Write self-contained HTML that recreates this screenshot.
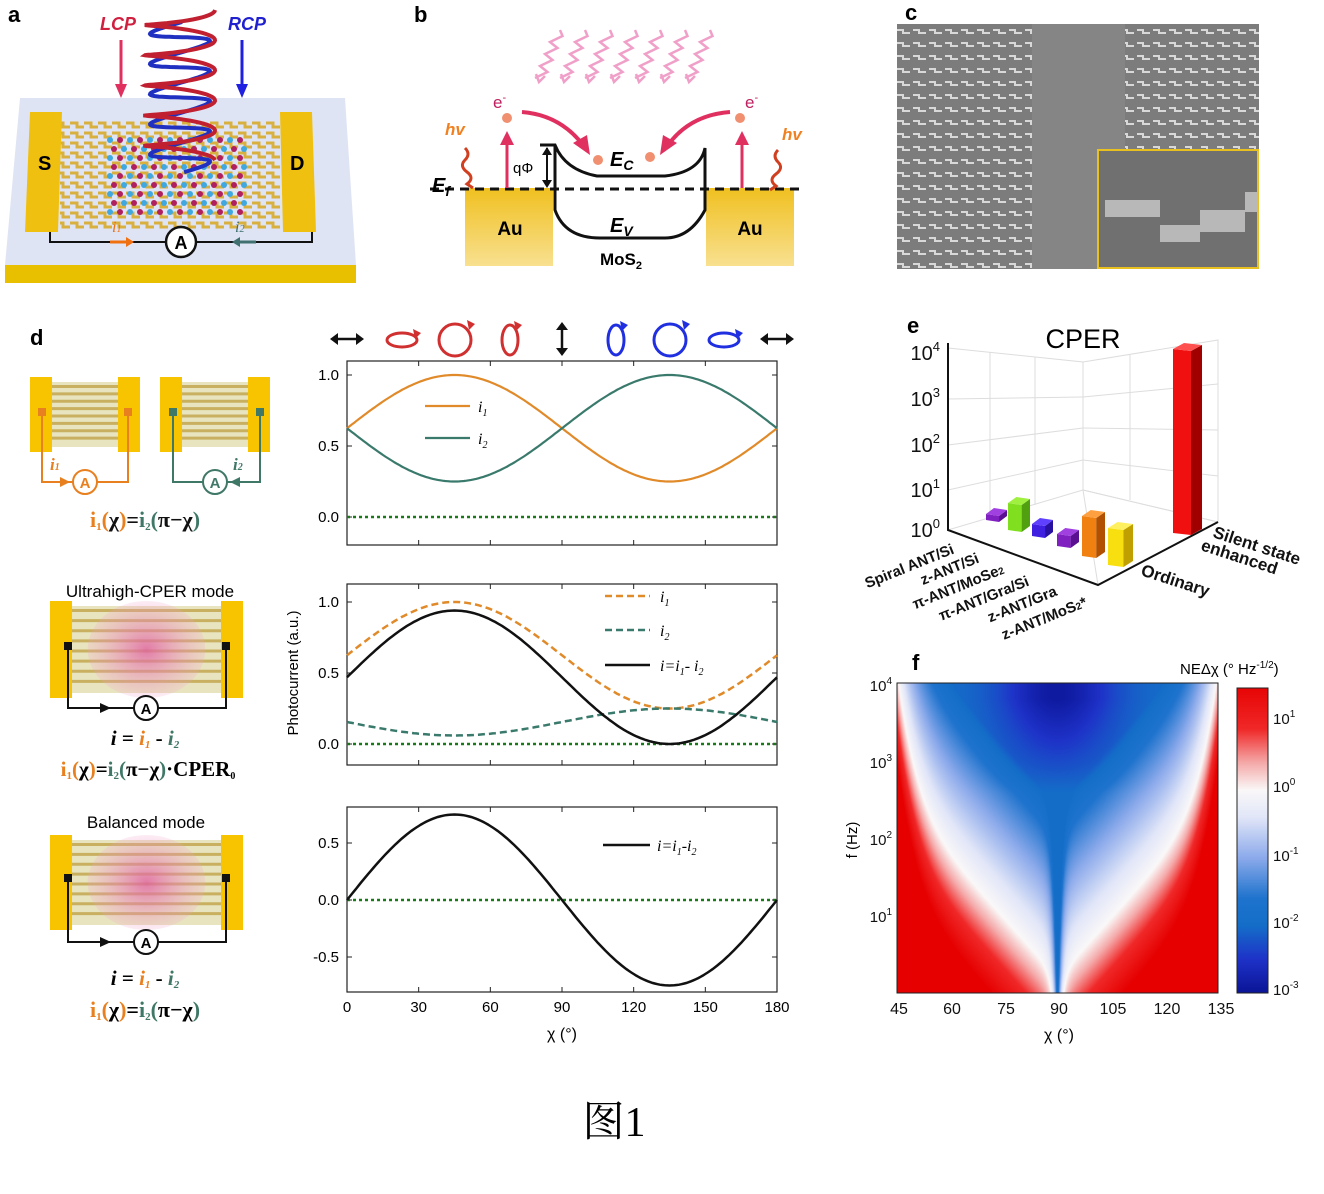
<!DOCTYPE html>
<html><head><meta charset="utf-8">
<style>
html,body{margin:0;padding:0;background:#fff;}
#wrap{position:relative;width:1324px;height:1194px;overflow:hidden;font-family:"Liberation Sans",sans-serif;}
svg{position:absolute;left:0;top:0;}
canvas{position:absolute;}
</style></head><body>
<div id="wrap">
<canvas id="hm" width="321" height="310" style="left:897px;top:683px;"></canvas>
<canvas id="cb" width="31" height="305" style="left:1237px;top:688px;"></canvas>
<svg id="s" width="1324" height="1194" viewBox="0 0 1324 1194" font-family="Liberation Sans, sans-serif">
<defs>
<radialGradient id="pink" cx="0.5" cy="0.5" r="0.5"><stop offset="0" stop-color="#e060a0" stop-opacity="0.8"/><stop offset="1" stop-color="#f0a0c8" stop-opacity="0.2"/></radialGradient>
<linearGradient id="au" x1="0" y1="0" x2="0" y2="1"><stop offset="0" stop-color="#f0c020"/><stop offset="1" stop-color="#f8e090"/></linearGradient>
<pattern id="fing" width="14" height="10" patternUnits="userSpaceOnUse"><path d="M0 3h7v4h7" stroke="#d8b040" stroke-width="3" fill="none"/></pattern>
<pattern id="sem" width="16" height="13" patternUnits="userSpaceOnUse"><rect width="16" height="13" fill="#7c7c7c"/><path d="M1 4h6v3h7" stroke="#d8d8d8" stroke-width="2" fill="none"/></pattern>
</defs>

<text x="8" y="22" font-size="22" font-weight="bold">a</text>
<polygon points="20,98 345,98 356,265 5,265" fill="#dfe4f4"/>
<polygon points="5,265 356,265 356,283 5,283" fill="#e8c000"/>
<rect x="60" y="120" width="220" height="110" fill="url(#fing)"/>
<polygon points="30,112 62,112 58,232 25,232" fill="#f0c010"/>
<polygon points="280,112 312,112 316,232 283,232" fill="#f0c010"/>
<text x="38" y="170" font-size="20" font-weight="bold">S</text>
<text x="290" y="170" font-size="20" font-weight="bold">D</text>
<g id="dots"></g>
<polyline points="50,232 50,242 312,242 312,232" fill="none" stroke="#111" stroke-width="2"/>
<circle cx="181" cy="242" r="15" fill="#fff" stroke="#111" stroke-width="2.5"/>
<text x="181" y="249" font-size="18" font-weight="bold" text-anchor="middle">A</text>
<path d="M110 242h16" stroke="#f07010" stroke-width="3"/><path d="M126 237l8 5-8 5z" fill="#f07010"/>
<path d="M240 242h16" stroke="#407070" stroke-width="3"/><path d="M240 237l-8 5 8 5z" fill="#407070"/>
<text x="112" y="232" font-size="16" fill="#f07010" font-style="italic" font-family="Liberation Serif">i<tspan font-size="10">1</tspan></text>
<text x="235" y="232" font-size="16" fill="#407070" font-style="italic" font-family="Liberation Serif">i<tspan font-size="10">2</tspan></text>
<g id="coil" fill="none" stroke-width="4"></g>
<text x="100" y="30" font-size="18" fill="#d02040" font-weight="bold" font-style="italic">LCP</text>
<text x="228" y="30" font-size="18" fill="#2020d0" font-weight="bold" font-style="italic">RCP</text>
<path d="M121 40v45" stroke="#e03060" stroke-width="3"/><path d="M115 84l6 14 6-14z" fill="#e03060"/>
<path d="M242 40v45" stroke="#2020e0" stroke-width="3"/><path d="M236 84l6 14 6-14z" fill="#2020e0"/>

<text x="414" y="22" font-size="22" font-weight="bold">b</text>
<g id="wig" stroke="#f0a0c8" stroke-width="2.5" fill="none"></g>
<rect x="465" y="188" width="88" height="78" fill="url(#au)"/>
<rect x="706" y="188" width="88" height="78" fill="url(#au)"/>
<text x="510" y="235" font-size="19" font-weight="bold" text-anchor="middle">Au</text>
<text x="750" y="235" font-size="19" font-weight="bold" text-anchor="middle">Au</text>
<line x1="430" y1="189" x2="800" y2="189" stroke="#111" stroke-width="3" stroke-dasharray="9,6"/>
<path d="M540 145H555Q565 170 597 176H665Q700 172 705 148V210Q690 238 665 238H600Q565 238 555 210V145" fill="none" stroke="#111" stroke-width="3"/>
<path d="M547 148v38" stroke="#111" stroke-width="2"/><path d="M542 155l5-8 5 8zM542 180l5 8 5-8z" fill="#111"/>
<text x="513" y="173" font-size="15">qΦ</text>
<text x="610" y="166" font-size="20" font-weight="bold" font-style="italic">E<tspan font-size="14" dy="4">C</tspan></text>
<text x="610" y="232" font-size="20" font-weight="bold" font-style="italic">E<tspan font-size="14" dy="4">V</tspan></text>
<text x="600" y="265" font-size="17" font-weight="bold">MoS<tspan font-size="11" dy="4">2</tspan></text>
<text x="432" y="192" font-size="20" font-weight="bold" font-style="italic">E<tspan font-size="14" dy="4">f</tspan></text>
<circle cx="507" cy="118" r="5" fill="#f09070"/><circle cx="740" cy="118" r="5" fill="#f09070"/>
<circle cx="598" cy="160" r="5" fill="#f09070"/><circle cx="650" cy="157" r="5" fill="#f09070"/>
<text x="493" y="108" font-size="17" fill="#c02060">e<tspan font-size="11" dy="-7">-</tspan></text>
<text x="745" y="108" font-size="17" fill="#c02060">e<tspan font-size="11" dy="-7">-</tspan></text>
<path d="M507 188V140" stroke="#e03060" stroke-width="3"/><path d="M500 145l7-14 7 14z" fill="#e03060"/>
<path d="M742 188V140" stroke="#e03060" stroke-width="3"/><path d="M735 145l7-14 7 14z" fill="#e03060"/>
<path d="M522 112Q560 115 583 145" stroke="#e03060" stroke-width="4" fill="none"/><path d="M573 143l17 12-3-20z" fill="#e03060"/>
<path d="M730 112Q690 115 668 145" stroke="#e03060" stroke-width="4" fill="none"/><path d="M677 143l-17 12 3-20z" fill="#e03060"/>
<text x="445" y="135" font-size="17" fill="#f08020" font-weight="bold" font-style="italic">hv</text>
<text x="782" y="140" font-size="17" fill="#f08020" font-weight="bold" font-style="italic">hv</text>
<path d="M465 148q6 6 0 12q-6 6 2 12q8 6 0 12l6 4" stroke="#d04020" stroke-width="3" fill="none"/>
<path d="M778 150q-6 6 0 12q6 6-2 12q-8 6 0 12l-6 4" stroke="#d04020" stroke-width="3" fill="none"/>

<text x="905" y="20" font-size="22" font-weight="bold">c</text>
<rect x="897" y="24" width="362" height="245" fill="#808080"/>
<rect x="897" y="24" width="135" height="245" fill="url(#sem)"/>
<rect x="1125" y="24" width="134" height="125" fill="url(#sem)"/>
<rect x="1032" y="24" width="93" height="245" fill="#858585"/>
<rect x="1098" y="150" width="160" height="118" fill="#707070" stroke="#e8c020" stroke-width="2"/>
<path d="M1105 200h55v25h40v-15h45v-18h12v20h-12v20h-45v10h-40v-25h-55z" fill="#b8b8b8"/>

<text x="30" y="345" font-size="22" font-weight="bold">d</text>
<g id="dleft"></g>
<g id="plots"></g>

<text x="907" y="333" font-size="22" font-weight="bold">e</text>
<g stroke="#ddd" stroke-width="1" fill="none">
<polygon points="948,348 1083,362 1083,490 948,530"/>
<polygon points="1083,362 1218,340 1218,522 1083,490"/>
<line x1="948" y1="399" x2="1083" y2="397"/><line x1="948" y1="445" x2="1083" y2="428"/><line x1="948" y1="490" x2="1083" y2="460"/>
<line x1="1083" y1="397" x2="1218" y2="384"/><line x1="1083" y1="428" x2="1218" y2="430"/><line x1="1083" y1="460" x2="1218" y2="476"/>
<line x1="1130" y1="355" x2="1130" y2="500"/><line x1="1175" y1="348" x2="1175" y2="510"/>
<line x1="990" y1="352" x2="990" y2="518"/><line x1="1035" y1="357" x2="1035" y2="505"/>
<line x1="1083" y1="490" x2="1218" y2="522"/><line x1="1083" y1="490" x2="1098" y2="585"/>
</g>
<polyline points="948,343 948,530 1098,585 1218,522" fill="none" stroke="#111" stroke-width="2"/>
<g font-size="20" fill="#111" text-anchor="end">
<text x="940" y="360">10<tspan font-size="13" dy="-9">4</tspan></text>
<text x="940" y="406">10<tspan font-size="13" dy="-9">3</tspan></text>
<text x="940" y="452">10<tspan font-size="13" dy="-9">2</tspan></text>
<text x="940" y="497">10<tspan font-size="13" dy="-9">1</tspan></text>
<text x="940" y="537">10<tspan font-size="13" dy="-9">0</tspan></text>
</g>
<text x="1083" y="348" font-size="27" text-anchor="middle">CPER</text>
<g id="bars"></g>
<g font-size="15" font-weight="bold" fill="#111" text-anchor="end">
<text transform="translate(955,553) rotate(-22)">Spiral ANT/Si</text>
<text transform="translate(980,562) rotate(-22)">z-ANT/Si</text>
<text transform="translate(1005,573) rotate(-22)">π-ANT/MoSe<tspan font-size="10">2</tspan></text>
<text transform="translate(1030,585) rotate(-22)">π-ANT/Gra/Si</text>
<text transform="translate(1058,595) rotate(-22)">z-ANT/Gra</text>
<text transform="translate(1088,606) rotate(-22)">z-ANT/MoS<tspan font-size="10">2</tspan>*</text>
</g>
<g font-size="17" font-weight="bold" fill="#111">
<text transform="translate(1140,575) rotate(18)">Ordinary</text>
<text transform="translate(1200,550) rotate(18)">enhanced</text>
<text transform="translate(1212,537) rotate(18)">Silent state</text>
</g>

<text x="912" y="670" font-size="22" font-weight="bold">f</text>
<rect x="897" y="683" width="321" height="310" fill="none" stroke="#222" stroke-width="1"/>
<g font-size="15" fill="#111" text-anchor="end">
<text x="892" y="691">10<tspan font-size="10" dy="-7">4</tspan></text>
<text x="892" y="768">10<tspan font-size="10" dy="-7">3</tspan></text>
<text x="892" y="845">10<tspan font-size="10" dy="-7">2</tspan></text>
<text x="892" y="922">10<tspan font-size="10" dy="-7">1</tspan></text>
</g>
<text transform="translate(857,840) rotate(-90)" font-size="15" text-anchor="middle">f (Hz)</text>
<g font-size="16" fill="#111" text-anchor="middle">
<text x="899" y="1014">45</text><text x="952" y="1014">60</text><text x="1006" y="1014">75</text><text x="1059" y="1014">90</text><text x="1113" y="1014">105</text><text x="1167" y="1014">120</text><text x="1221" y="1014">135</text>
</g>
<text x="1059" y="1040" font-size="16" text-anchor="middle">χ (°)</text>
<text x="1180" y="674" font-size="15">NEΔχ (° Hz<tspan font-size="10" dy="-6">-1/2</tspan><tspan dy="6">)</tspan></text>
<rect x="1237" y="688" width="31" height="305" fill="none" stroke="#222"/>
<g font-size="15" fill="#111">
<text x="1273" y="724">10<tspan font-size="10" dy="-7">1</tspan></text>
<text x="1273" y="792">10<tspan font-size="10" dy="-7">0</tspan></text>
<text x="1273" y="861">10<tspan font-size="10" dy="-7">-1</tspan></text>
<text x="1273" y="928">10<tspan font-size="10" dy="-7">-2</tspan></text>
<text x="1273" y="995">10<tspan font-size="10" dy="-7">-3</tspan></text>
</g>

<text x="614" y="1136" font-size="42" text-anchor="middle" font-family="Liberation Serif, Noto Serif CJK SC, serif">图1</text>
</svg>
</div>
<script>
const NS="http://www.w3.org/2000/svg";
function el(p,tag,a,txt){const e=document.createElementNS(NS,tag);for(const k in a)e.setAttribute(k,a[k]);if(txt!==undefined)e.innerHTML=txt;p.appendChild(e);return e;}
const dots=document.getElementById('dots');
for(let r=0;r<9;r++)for(let c=0;c<14;c++){const x=110+c*10+(r%2)*4,y=140+r*9;el(dots,'circle',{cx:x,cy:y,r:3,fill:(c+r)%2?'#b02060':'#40a8e0'});}
const coil=document.getElementById('coil');
let pr="",pb="";
for(let t=0;t<=5*2*Math.PI;t+=0.15){const y=10+t*4.8,x=180+35*Math.cos(t),x2=180+30*Math.cos(t+1.5);pr+=(pr?"L":"M")+x.toFixed(1)+" "+(y+4*Math.sin(t)).toFixed(1);pb+=(pb?"L":"M")+x2.toFixed(1)+" "+(y+12+4*Math.sin(t)).toFixed(1);}
el(coil,'path',{d:pb,stroke:'#2030c0'});el(coil,'path',{d:pr,stroke:'#c02030'});
const wig=document.getElementById('wig');
for(let i=0;i<7;i++){const x0=560+i*25;let d="M"+x0+" 30";for(let k=1;k<=8;k++){d+="L"+(x0-k*2.5+(k%2?5:-5))+" "+(30+k*6);}el(wig,'path',{d:d});el(wig,'path',{d:"M"+(x0-24)+" 74l3 8 6-6",fill:"none"});}
const dl=document.getElementById('dleft');
function device(x,y,w,h,pink){el(dl,'rect',{x:x+20,y:y+5,width:w-40,height:h-10,fill:'#e8e4c0'});
for(let k=0;k<8;k++)el(dl,'rect',{x:x+20,y:y+8+k*(h-16)/8,width:w-40,height:3,fill:'#c8b060'});
if(pink)el(dl,'ellipse',{cx:x+w/2,cy:y+h/2,rx:(w-40)/2.6,ry:h/2,fill:'url(#pink)'});
el(dl,'rect',{x:x,y:y,width:22,height:h,fill:'#f8c400'});el(dl,'rect',{x:x+w-22,y:y,width:22,height:h,fill:'#f8c400'});}
device(30,377,110,75,false);device(160,377,110,75,false);
function circ(x1,x2,xl,y,col,ymid){el(dl,'polyline',{points:`${x1},${ymid} ${x1},${y} ${x2},${y} ${x2},${ymid}`,fill:'none',stroke:col,'stroke-width':2});
el(dl,'rect',{x:x1-4,y:ymid-4,width:8,height:8,fill:col});el(dl,'rect',{x:x2-4,y:ymid-4,width:8,height:8,fill:col});
el(dl,'circle',{cx:xl,cy:y,r:12,fill:'#fff',stroke:col,'stroke-width':2});el(dl,'text',{x:xl,y:y+6,'font-size':15,'font-weight':'bold','text-anchor':'middle',fill:col},'A');}
circ(42,128,85,482,'#e88020',412);circ(173,260,215,482,'#407868',412);
el(dl,'path',{d:'M60 477l10 5-10 5z',fill:'#e88020'});el(dl,'path',{d:'M240 477l-10 5 10 5z',fill:'#407868'});
el(dl,'text',{x:50,y:470,'font-size':17,'font-weight':'bold','font-style':'italic',fill:'#e88020','font-family':'Liberation Serif'},'i<tspan font-size="10">1</tspan>');
el(dl,'text',{x:233,y:470,'font-size':17,'font-weight':'bold','font-style':'italic',fill:'#407868','font-family':'Liberation Serif'},'i<tspan font-size="10">2</tspan>');
const eq1='<tspan fill="#e88020">i<tspan font-size="11" dy="3">1</tspan><tspan dy="-3">(</tspan></tspan>χ<tspan fill="#e88020">)</tspan>=<tspan fill="#407868">i<tspan font-size="11" dy="3">2</tspan><tspan dy="-3">(</tspan></tspan>π−χ<tspan fill="#407868">)</tspan>';
el(dl,'text',{x:145,y:527,'font-size':22,'font-weight':'bold','font-family':'Liberation Serif','text-anchor':'middle',fill:'#111'},eq1);
el(dl,'text',{x:150,y:597,'font-size':17,'text-anchor':'middle'},'Ultrahigh-CPER mode');
device(50,601,193,97,true);
function bcirc(y,ymid){el(dl,'polyline',{points:`68,${ymid} 68,${y} 226,${y} 226,${ymid}`,fill:'none',stroke:'#111','stroke-width':2});
el(dl,'rect',{x:64,y:ymid-4,width:8,height:8,fill:'#111'});el(dl,'rect',{x:222,y:ymid-4,width:8,height:8,fill:'#111'});
el(dl,'path',{d:`M100 ${y-5}l11 5-11 5z`,fill:'#111'});el(dl,'circle',{cx:146,cy:y,r:12,fill:'#fff',stroke:'#111','stroke-width':2});
el(dl,'text',{x:146,y:y+6,'font-size':15,'font-weight':'bold','text-anchor':'middle'},'A');}
bcirc(708,646);
const eqi='<tspan font-style="italic">i</tspan> = <tspan fill="#e88020" font-style="italic">i<tspan font-size="11" dy="3">1</tspan></tspan><tspan dy="-3"> - </tspan><tspan fill="#407868" font-style="italic">i<tspan font-size="11" dy="3">2</tspan></tspan>';
el(dl,'text',{x:145,y:745,'font-size':21,'font-weight':'bold','font-family':'Liberation Serif','text-anchor':'middle'},eqi);
el(dl,'text',{x:148,y:776,'font-size':21,'font-weight':'bold','font-family':'Liberation Serif','text-anchor':'middle'},eq1+'·CPER<tspan font-size="10" dy="3">0</tspan>');
el(dl,'text',{x:146,y:828,'font-size':17,'text-anchor':'middle'},'Balanced mode');
device(50,835,193,95,true);
bcirc(942,878);
el(dl,'text',{x:145,y:985,'font-size':21,'font-weight':'bold','font-family':'Liberation Serif','text-anchor':'middle'},eqi);
el(dl,'text',{x:145,y:1017,'font-size':22,'font-weight':'bold','font-family':'Liberation Serif','text-anchor':'middle'},eq1);
const P=document.getElementById('plots');
const X0=347,X1=777;const sx=c=>X0+(X1-X0)*c/180;
function curve(f,ymap,attrs){let d="";for(let c=0;c<=180;c+=1){d+=(d?"L":"M")+sx(c).toFixed(1)+" "+ymap(f(c*Math.PI/180)).toFixed(1);}el(P,'path',Object.assign({d:d,fill:'none'},attrs));}
function axes(yt,yb,ticks,ymap){el(P,'rect',{x:X0,y:yt,width:X1-X0,height:yb-yt,fill:'none',stroke:'#222','stroke-width':1.2});
for(const t of ticks){const y=ymap(t);el(P,'line',{x1:X0,y1:y,x2:X0+5,y2:y,stroke:'#222'});el(P,'line',{x1:X1,y1:y,x2:X1-5,y2:y,stroke:'#222'});
el(P,'text',{x:X0-8,y:y+5,'font-size':15,'text-anchor':'end'},t.toFixed(1));}
for(let c=0;c<=180;c+=30){el(P,'line',{x1:sx(c),y1:yb,x2:sx(c),y2:yb-5,stroke:'#222'});el(P,'line',{x1:sx(c),y1:yt,x2:sx(c),y2:yt+5,stroke:'#222'});}
el(P,'line',{x1:X0,y1:ymap(0),x2:X1,y2:ymap(0),stroke:'#1a7a1a','stroke-width':2.5,'stroke-dasharray':'3,3'});}
const y1=v=>517-142*v;axes(361,545,[0,0.5,1.0],y1);
curve(c=>0.625+0.375*Math.sin(2*c),y1,{stroke:'#e08a2a','stroke-width':2.2});
curve(c=>0.625-0.375*Math.sin(2*c),y1,{stroke:'#3a7a6c','stroke-width':2.2});
el(P,'line',{x1:425,y1:406,x2:470,y2:406,stroke:'#e08a2a','stroke-width':2.2});el(P,'line',{x1:425,y1:438,x2:470,y2:438,stroke:'#3a7a6c','stroke-width':2.2});
el(P,'text',{x:478,y:412,'font-size':16,'font-style':'italic','font-family':'Liberation Serif'},'i<tspan font-size="10" dy="4">1</tspan>');
el(P,'text',{x:478,y:444,'font-size':16,'font-style':'italic','font-family':'Liberation Serif'},'i<tspan font-size="10" dy="4">2</tspan>');
const y2=v=>744-142*v;axes(584,765,[0,0.5,1.0],y2);
curve(c=>0.625+0.375*Math.sin(2*c),y2,{stroke:'#e08a2a','stroke-width':2.5,'stroke-dasharray':'7,4'});
curve(c=>0.155-0.095*Math.sin(2*c),y2,{stroke:'#3a7a6c','stroke-width':2.5,'stroke-dasharray':'7,4'});
curve(c=>0.47*(1+Math.sin(2*c)),y2,{stroke:'#111','stroke-width':2.5});
el(P,'line',{x1:605,y1:596,x2:650,y2:596,stroke:'#e08a2a','stroke-width':2.5,'stroke-dasharray':'7,4'});
el(P,'line',{x1:605,y1:630,x2:650,y2:630,stroke:'#3a7a6c','stroke-width':2.5,'stroke-dasharray':'7,4'});
el(P,'line',{x1:605,y1:665,x2:650,y2:665,stroke:'#111','stroke-width':2.5});
el(P,'text',{x:660,y:602,'font-size':16,'font-style':'italic','font-family':'Liberation Serif'},'i<tspan font-size="10" dy="4">1</tspan>');
el(P,'text',{x:660,y:636,'font-size':16,'font-style':'italic','font-family':'Liberation Serif'},'i<tspan font-size="10" dy="4">2</tspan>');
el(P,'text',{x:660,y:671,'font-size':16,'font-style':'italic','font-family':'Liberation Serif'},'i=i<tspan font-size="10" dy="4">1</tspan><tspan dy="-4">- i</tspan><tspan font-size="10" dy="4">2</tspan>');
const y3=v=>900-114*v;axes(807,992,[-0.5,0,0.5],y3);
curve(c=>0.75*Math.sin(2*c),y3,{stroke:'#111','stroke-width':2.5});
el(P,'line',{x1:603,y1:845,x2:650,y2:845,stroke:'#111','stroke-width':2.5});
el(P,'text',{x:657,y:851,'font-size':16,'font-style':'italic','font-family':'Liberation Serif'},'i=i<tspan font-size="10" dy="4">1</tspan><tspan dy="-4">-i</tspan><tspan font-size="10" dy="4">2</tspan>');
for(let c=0;c<=180;c+=30)el(P,'text',{x:sx(c),y:1012,'font-size':15,'text-anchor':'middle'},c);
el(P,'text',{x:562,y:1039,'font-size':16,'text-anchor':'middle'},'χ (°)');
el(P,'text',{transform:'translate(298,673) rotate(-90)','font-size':15,'text-anchor':'middle'},'Photocurrent (a.u.)');
function dbl(x,vert){if(!vert){el(P,'path',{d:`M${x-14} 339h28`,stroke:'#111','stroke-width':2.5});el(P,'path',{d:`M${x-17} 339l8-6v12zM${x+17} 339l-8-6v12z`,fill:'#111'});}
else{el(P,'path',{d:`M${x} 325v28`,stroke:'#111','stroke-width':2.5});el(P,'path',{d:`M${x} 322l-6 8h12zM${x} 356l-6-8h12z`,fill:'#111'});}}
dbl(347,false);dbl(777,false);dbl(562,true);
const pol=[[402,15,7,'#d03030'],[455,16,16,'#d03030'],[510,8,15,'#d03030'],[616,8,15,'#2030e0'],[670,16,16,'#2030e0'],[724,15,7,'#2030e0']];
for(const [x,rx,ry,c] of pol){el(P,'ellipse',{cx:x,cy:340,rx:rx,ry:ry,fill:'none',stroke:c,'stroke-width':3});el(P,'path',{d:`M${x+rx-4} ${340-ry-4}l8 4-6 6z`,fill:c});}
const B=document.getElementById('bars');
function bar(x1,x2,yt,yb,c,cs,ct){const w=x2-x1,f=w*0.62,dx=w-f,dy=6;
el(B,'polygon',{points:`${x1},${yt+dy} ${x1+f},${yt+dy+2} ${x1+f},${yb} ${x1},${yb-2}`,fill:c});
el(B,'polygon',{points:`${x1+f},${yt+dy+2} ${x2},${yt+2} ${x2},${yb-6} ${x1+f},${yb}`,fill:cs});
el(B,'polygon',{points:`${x1},${yt+dy} ${x1+dx},${yt} ${x2},${yt+2} ${x1+f},${yt+dy+2}`,fill:ct});}
bar(986,1007,508,522,'#8020c0','#5a1090','#a040e0');
bar(1008,1030,497,532,'#80e020','#50a010','#a0f040');
bar(1032,1053,518,538,'#4020e0','#2810a0','#6040ff');
bar(1057,1079,528,548,'#8020c0','#5a1090','#a040e0');
bar(1082,1105,510,558,'#f08010','#b05000','#ffa040');
bar(1108,1133,522,567,'#f8e010','#c0a000','#fff060');
bar(1173,1202,343,535,'#f01010','#a00000','#ff5050');
function col(v){
 const stops=[[-3,[10,20,150]],[-2.5,[30,50,200]],[-2,[20,110,200]],[-1.6,[30,115,205]],[-1,[140,170,235]],[-0.4,[225,230,248]],[0,[250,248,248]],[0.4,[245,170,170]],[0.9,[240,40,40]],[1.6,[230,0,0]]];
 if(v<=stops[0][0])return stops[0][1];
 for(let i=1;i<stops.length;i++){if(v<=stops[i][0]){const a=stops[i-1],b=stops[i],t=(v-a[0])/(b[0]-a[0]);return a[1].map((q,k)=>Math.round(q+(b[1][k]-q)*t));}}
 return stops[stops.length-1][1];}
const hc=document.getElementById('hm').getContext('2d');const im=hc.createImageData(321,310);
for(let y=0;y<310;y++){const lf=4-y/77.5;for(let x=0;x<321;x++){const chi=45+90*x/320;const d=Math.abs(chi-90)/45;
 const lw=0.2+2.3*d+1.6*Math.pow(d,8);let diff=lw-lf;let v=diff>0?diff*1.4:diff*0.9;
 v-=2.5*Math.exp(-d*45);
 if(v<-2)v=-2;
 const top=Math.max(0,Math.min(1,(lf-2.6)/1.2));v-=0.9*top*Math.exp(-Math.pow(d/0.35,2));
 const c=col(v);const i=(y*321+x)*4;im.data[i]=c[0];im.data[i+1]=c[1];im.data[i+2]=c[2];im.data[i+3]=255;}}
hc.putImageData(im,0,0);
const cc=document.getElementById('cb').getContext('2d');
for(let y=0;y<305;y++){const v=1.5-y*4.5/305;const c=col(v);cc.fillStyle=`rgb(${c[0]},${c[1]},${c[2]})`;cc.fillRect(0,y,31,1);}
</script>
</body></html>
